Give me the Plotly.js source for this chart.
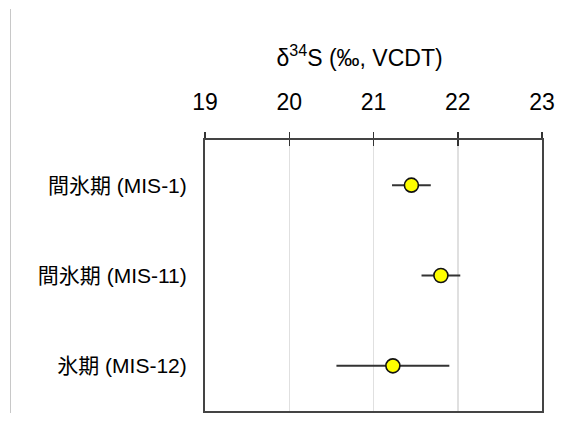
<!DOCTYPE html>
<html>
<head>
<meta charset="utf-8">
<script src="https://cdn.plot.ly/plotly-3.0.1.min.js"></script>
<style>
html,body{margin:0;padding:0;background:#fff;}
#wrap{position:relative;width:568px;height:421px;}
#chart{width:568px;height:421px;}
#vline{position:absolute;left:10px;top:9px;width:1px;height:404px;background:#c8c8c8;}
</style>
</head>
<body>
<div id="wrap"><div id="chart"></div><div id="vline"></div></div>
<script>
const categories = ["間氷期 (MIS-1)", "間氷期 (MIS-11)", "氷期 (MIS-12)"];
const d34S = [21.45, 21.80, 21.23];
const errs = [0.23, 0.23, 0.67];
const tickVals = [19, 20, 21, 22, 23];

const fontFam = "'Liberation Sans', Arial, 'Noto Sans CJK JP', sans-serif";

const trace = {
  type: 'scatter',
  mode: 'markers',
  x: d34S,
  y: categories,
  error_x: {type: 'data', array: errs, visible: true, color: '#333', thickness: 2, width: 0},
  marker: {size: 14, color: '#ffff00', line: {color: '#111', width: 1.6}},
  showlegend: false,
  hoverinfo: 'skip'
};
const dummy = {
  type: 'scatter', mode: 'markers', x: [19], y: [categories[0]],
  xaxis: 'x2', marker: {opacity: 0}, showlegend: false, hoverinfo: 'skip'
};

const layout = {
  width: 568, height: 421,
  margin: {l: 205, r: 26, t: 140, b: 10},
  paper_bgcolor: '#fff', plot_bgcolor: '#fff',
  font: {family: fontFam, color: '#000'},
  title: {
    text: 'δ<sup>34</sup>S (‰, VCDT)',
    font: {size: 23, family: fontFam, color: '#000'},
    x: 0.633, xanchor: 'center', xref: 'container',
    y: 0.862, yanchor: 'middle', yref: 'container'
  },
  xaxis: {
    range: [19, 23], side: 'top', tickvals: tickVals,
    ticks: 'outside', ticklen: 6, tickwidth: 1.5, tickcolor: '#333',
    ticklabelstandoff: 13,
    tickfont: {size: 23, family: fontFam, color: '#000'},
    showline: true, mirror: true, linecolor: '#444', linewidth: 2,
    showgrid: true, gridcolor: '#e0e0e0', gridwidth: 1.5,
    zeroline: false, fixedrange: true
  },
  xaxis2: {
    range: [19, 23], side: 'top', overlaying: 'x', tickvals: tickVals,
    ticks: 'inside', ticklen: 6, tickwidth: 1.5, tickcolor: '#333',
    showticklabels: false, showgrid: false, showline: false, zeroline: false
  },
  yaxis: {
    type: 'category', range: [2.5, -0.5],
    ticks: '', ticklabelstandoff: 12,
    tickfont: {size: 21, family: fontFam, color: '#000'},
    showline: true, mirror: true, linecolor: '#444', linewidth: 2,
    showgrid: false, zeroline: false, fixedrange: true
  }
};

Plotly.newPlot('chart', [trace, dummy], layout, {displayModeBar: false, staticPlot: true});
</script>
</body>
</html>
